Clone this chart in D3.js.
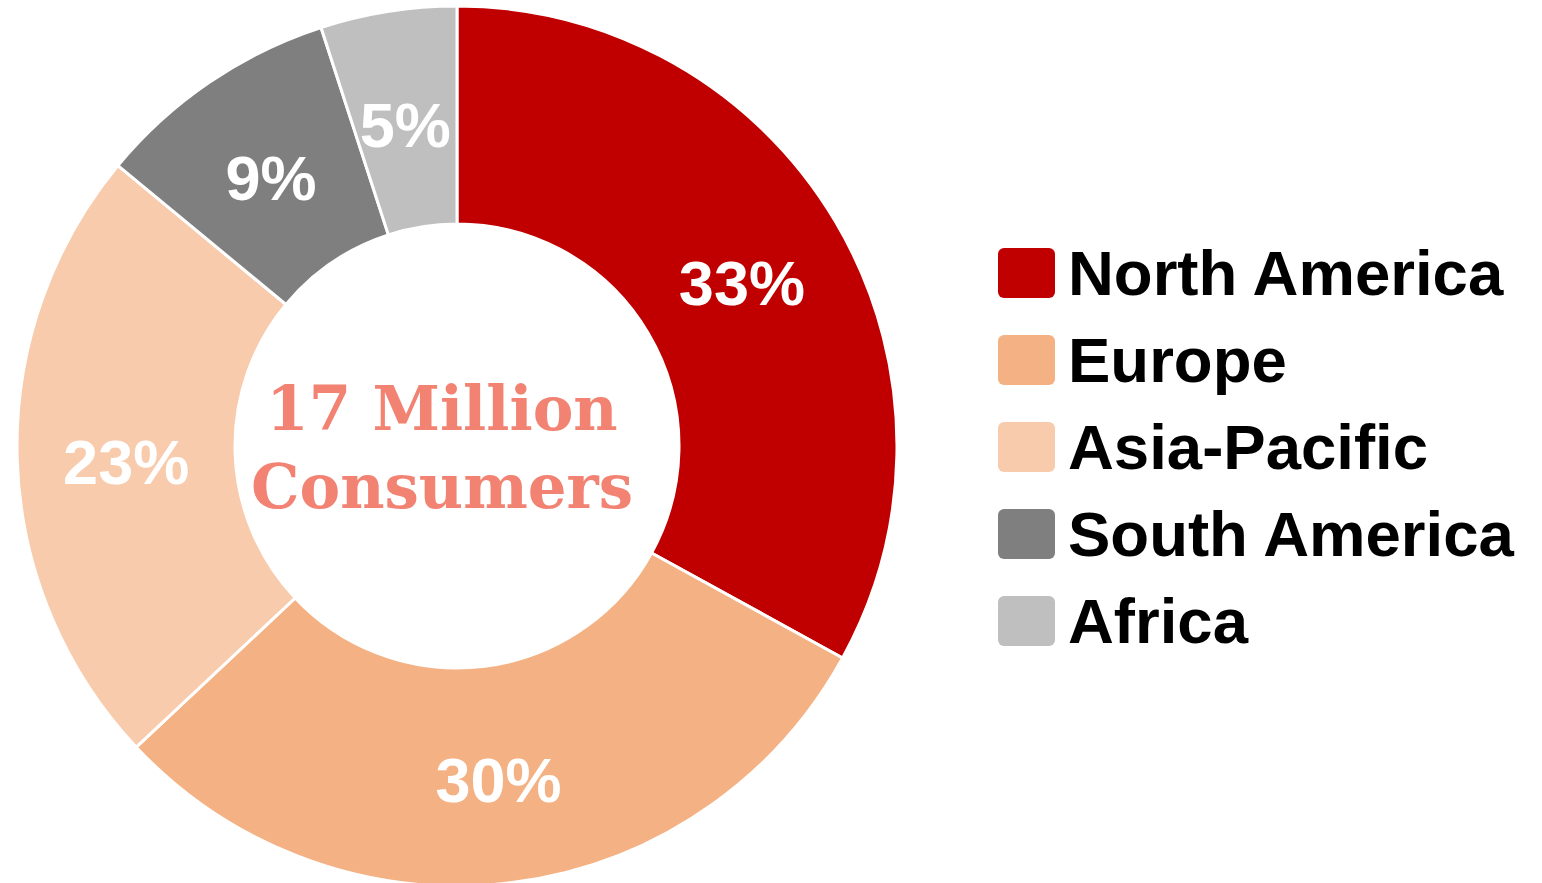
<!DOCTYPE html>
<html><head><meta charset="utf-8">
<script src="https://cdn.jsdelivr.net/npm/d3@7"></script>
<style>html,body{margin:0;padding:0;background:#fff;overflow:hidden}</style>
</head><body>
<svg id="chart" width="1542" height="883"></svg>
<script>
const categories = ["North America", "Europe", "Asia-Pacific", "South America", "Africa"];
const values = [33, 30, 23, 9, 5];
const colors = ["#C00000", "#F4B183", "#F8CBAD", "#7F7F7F", "#BFBFBF"];
const centerLines = ["17 Million", "Consumers"];

const svg = d3.select("#chart");
const cx = 457, cy = 446, rOuter = 440, rInner = 222;
const data = categories.map((c, i) => ({name: c, value: values[i], color: colors[i]}));

const pie = d3.pie().value(d => d.value).sort(null);
const arc = d3.arc().innerRadius(rInner).outerRadius(rOuter);
const g = svg.append("g").attr("transform", `translate(${cx},${cy})`);
const arcs = pie(data);

g.selectAll("path").data(arcs).join("path")
  .attr("d", arc)
  .attr("fill", d => d.data.color)
  .attr("stroke", "#fff")
  .attr("stroke-width", 3);

g.selectAll("text.lbl").data(arcs).join("text")
  .attr("class", "lbl")
  .attr("transform", d => `translate(${arc.centroid(d)})`)
  .attr("text-anchor", "middle")
  .attr("dy", "0.44em")
  .attr("fill", "#fff")
  .style("font-family", "'Liberation Sans', Arial, sans-serif")
  .style("font-weight", "bold")
  .style("font-size", "63px")
  .text(d => d.data.value + "%");

svg.selectAll("text.center").data(centerLines).join("text")
  .attr("class", "center")
  .attr("x", 442)
  .attr("y", (d, i) => 430 + i * 78)
  .attr("text-anchor", "middle")
  .attr("fill", "#F28373")
  .style("font-family", "'DejaVu Serif', serif")
  .style("font-weight", "bold")
  .style("font-size", "61px")
  .text(d => d);

const legend = svg.append("g");
const rowY = d3.scalePoint().domain(categories).range([273, 621]);
const items = legend.selectAll("g").data(data).join("g")
  .attr("transform", d => `translate(998,${rowY(d.name)})`);
items.append("rect")
  .attr("x", 0).attr("y", -25)
  .attr("width", 57).attr("height", 50)
  .attr("rx", 6)
  .attr("fill", d => d.color);
items.append("text")
  .attr("x", 70).attr("y", 22)
  .attr("fill", "#000")
  .style("font-family", "'Liberation Sans', Arial, sans-serif")
  .style("font-weight", "bold")
  .style("font-size", "63.5px")
  .text(d => d.name);
</script>
</body></html>
